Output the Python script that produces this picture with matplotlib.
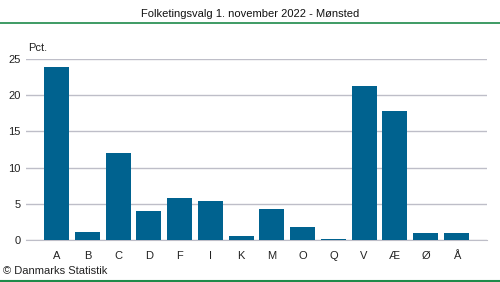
import matplotlib.pyplot as plt
from matplotlib.lines import Line2D

plt.rcParams['font.family'] = ['Liberation Sans', 'DejaVu Sans']

# Partier og stemmeandel (pct.)
partier = ['A', 'B', 'C', 'D', 'F', 'I', 'K', 'M', 'O', 'Q', 'V', 'Æ', 'Ø', 'Å']
pct = [23.9, 1.1, 12.0, 4.0, 5.8, 5.4, 0.55, 4.3, 1.8, 0.15, 21.3, 17.8, 1.0, 1.0]
yticks = [0, 5, 10, 15, 20, 25]

fig = plt.figure(figsize=(5.0, 2.82), dpi=100)
ax = fig.add_axes([26/500, 1 - 240/282, 461/500, 181/282])

x = range(len(partier))
ax.bar(x, pct, width=0.81, color='#00628f', zorder=3)

ax.set_xlim(-1, len(partier))
ax.set_ylim(0, 25)
ax.set_yticks(yticks)
ax.set_xticks(list(x))
ax.set_xticklabels(partier)
ax.grid(axis='y', color='#bebec8', linewidth=1, zorder=0)
for s in ['top', 'right', 'left']:
    ax.spines[s].set_visible(False)
ax.spines['bottom'].set_color('#bebec8')
ax.tick_params(length=0, labelsize=8, colors='#222222', pad=8)
ax.tick_params(axis='y', pad=4)

fig.text(28/500, 1 - 48/282, 'Pct.', fontsize=8, va='center', color='#222222')
fig.text(0.5, 1 - 14/282, 'Folketingsvalg 1. november 2022 - Mønsted', fontsize=8,
         ha='center', va='center', color='#111111')
fig.text(3/500, 1 - 271/282, '© Danmarks Statistik', fontsize=8, va='center', color='#222222')

fig.add_artist(Line2D([0, 1], [1 - 22.5/282] * 2, color='#1e8a4a', linewidth=1.2))
fig.add_artist(Line2D([0, 1], [1 - 281/282] * 2, color='#1e8a4a', linewidth=1.5))

fig.savefig('out.png', dpi=100)
